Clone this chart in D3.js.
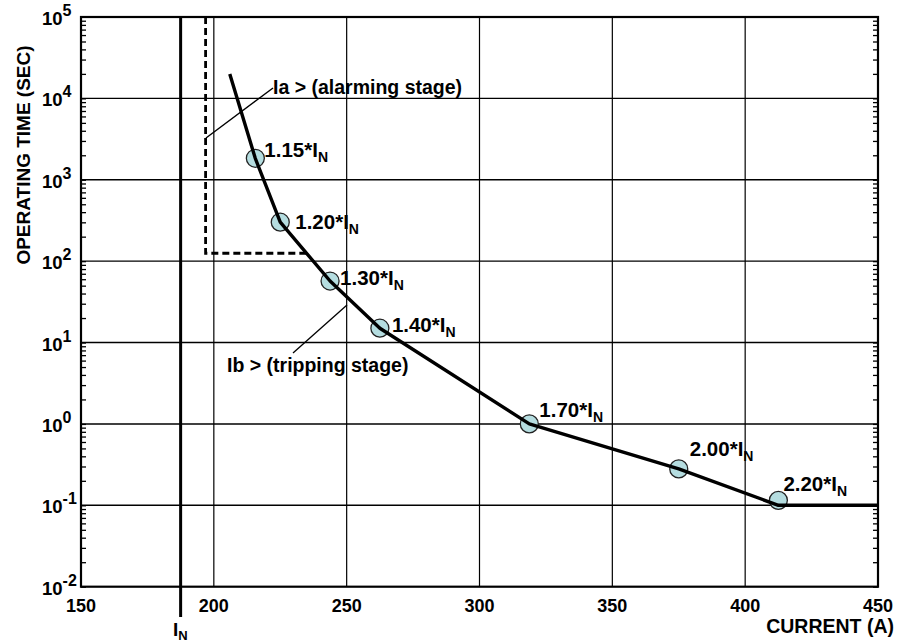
<!DOCTYPE html>
<html><head><meta charset="utf-8">
<script src="https://cdn.jsdelivr.net/npm/d3@7"></script>
<style>
body{margin:0;background:#fff;}
text{font-family:"Liberation Sans",Arial,sans-serif;font-weight:bold;fill:#000;}
</style></head>
<body><svg id="c" width="899" height="644"></svg>
<script>
// ---- data ----
const IN = 187.5;
const xTicks = [150, 200, 250, 300, 350, 400, 450];
const yDecades = [-2, -1, 0, 1, 2, 3, 4, 5];
const curveCurrent = [206, 215.6, 225, 243.75, 262.5, 318.75, 375, 412.5, 450];
const curveTime = [20000, 1837, 301, 57, 15, 1.0, 0.28, 0.1, 0.1];
const markerMult = [1.15, 1.20, 1.30, 1.40, 1.70, 2.00, 2.20];
const markerTime = [1837, 301, 57, 15, 1.0, 0.28, 0.115];
const markerLabels = ["1.15", "1.20", "1.30", "1.40", "1.70", "2.00", "2.20"];
const alarmCurrent = [196.9, 196.9, 235];
const alarmTime = [100000, 125, 125];

// ---- layout ----
const svg = d3.select("#c");
const L = 81, R = 878, T = 17, B = 586.7;
const x = d3.scaleLinear().domain([150, 450]).range([L, R]);
const y = d3.scaleLog().domain([0.01, 100000]).range([B, T]);

// grid
const g = svg.append("g");
g.selectAll(".vg").data(xTicks.slice(1, -1)).join("line")
  .attr("x1", d => x(d)).attr("x2", d => x(d)).attr("y1", T).attr("y2", B)
  .attr("stroke", "#000").attr("stroke-width", 1.2);
g.selectAll(".hg").data(yDecades.slice(1, -1)).join("line")
  .attr("y1", d => y(Math.pow(10, d))).attr("y2", d => y(Math.pow(10, d))).attr("x1", L).attr("x2", R)
  .attr("stroke", "#000").attr("stroke-width", 1.4);

// minor ticks on left/right axes (inside)
const minors = [];
for (let e = -2; e < 5; e++) for (let m = 1; m < 10; m++) minors.push(m * Math.pow(10, e));
const leftAx = d3.axisRight(y).tickValues(minors).tickSize(5).tickFormat("");
const rightAx = d3.axisLeft(y).tickValues(minors).tickSize(5).tickFormat("");
svg.append("g").attr("transform", `translate(${L},0)`).call(leftAx)
  .call(s => s.select(".domain").remove()).selectAll("line").attr("stroke-width", 1.3);
svg.append("g").attr("transform", `translate(${R},0)`).call(rightAx)
  .call(s => s.select(".domain").remove()).selectAll("line").attr("stroke-width", 1.3);

// frame
svg.append("rect").attr("x", L).attr("y", T).attr("width", R - L).attr("height", B - T)
  .attr("fill", "none").attr("stroke", "#000").attr("stroke-width", 2.2);

// I_N line
svg.append("line").attr("x1", x(IN)).attr("x2", x(IN)).attr("y1", T).attr("y2", 617)
  .attr("stroke", "#000").attr("stroke-width", 3);

// alarm dashed
const line = d3.line().x(d => x(d[0])).y(d => y(d[1]));
svg.append("path").datum(alarmCurrent.map((c, i) => [c, alarmTime[i]]))
  .attr("d", line).attr("fill", "none").attr("stroke", "#000")
  .attr("stroke-width", 2.8).attr("stroke-dasharray", "7,4");

// leader lines
svg.append("line").attr("x1", 206).attr("y1", 138).attr("x2", 273).attr("y2", 88)
  .attr("stroke", "#000").attr("stroke-width", 1.4);
svg.append("line").attr("x1", 293).attr("y1", 353).attr("x2", 347).attr("y2", 305)
  .attr("stroke", "#000").attr("stroke-width", 1.4);

// markers
const mk = markerMult.map((m, i) => ({c: m * IN, t: markerTime[i], lab: markerLabels[i]}));
svg.selectAll(".mk").data(mk).join("circle")
  .attr("cx", d => x(d.c)).attr("cy", d => y(d.t)).attr("r", 9)
  .attr("fill", "#b5dde0").attr("stroke", "#222").attr("stroke-width", 1.3);

// curve (on top of circles)
svg.append("path").datum(curveCurrent.map((c, i) => [c, curveTime[i]]))
  .attr("d", line).attr("fill", "none").attr("stroke", "#000")
  .attr("stroke-width", 3.4).attr("stroke-linejoin", "round");

// marker labels
const offs = [[9, -1], [15, 7], [10, 4], [12, 4], [10, -7], [11, -13], [5, -9]];
mk.forEach((d, i) => {
  const t = svg.append("text").attr("x", x(d.c) + offs[i][0]).attr("y", y(d.t) + offs[i][1])
    .attr("font-size", 20.5);
  t.append("tspan").text(d.lab + "*I");
  t.append("tspan").text("N").attr("font-size", 14).attr("dy", 5);
});

// annotations
svg.append("text").attr("x", 273).attr("y", 94).attr("font-size", 19.5).text("Ia > (alarming stage)");
svg.append("text").attr("x", 227).attr("y", 372).attr("font-size", 19.5).text("Ib > (tripping stage)");

// y tick labels
yDecades.forEach(e => {
  const t = svg.append("text").attr("x", 42).attr("y", y(Math.pow(10, e)) + 8).attr("font-size", 18.5);
  t.append("tspan").text("10");
  t.append("tspan").text(e).attr("font-size", 16).attr("dy", -9);
});

// x tick labels
svg.selectAll(".xl").data(xTicks).join("text")
  .attr("x", d => x(d)).attr("y", 612).attr("text-anchor", "middle").attr("font-size", 18)
  .text(d => d);

// axis titles
svg.append("text").attr("transform", "translate(30,155) rotate(-90)")
  .attr("text-anchor", "middle").attr("font-size", 19).text("OPERATING TIME (SEC)");
svg.append("text").attr("x", 894).attr("y", 633).attr("text-anchor", "end")
  .attr("font-size", 19.5).text("CURRENT (A)");
const inl = svg.append("text").attr("x", 173).attr("y", 636).attr("font-size", 19);
inl.append("tspan").text("I");
inl.append("tspan").text("N").attr("font-size", 13).attr("dy", 4);
</script></body></html>
